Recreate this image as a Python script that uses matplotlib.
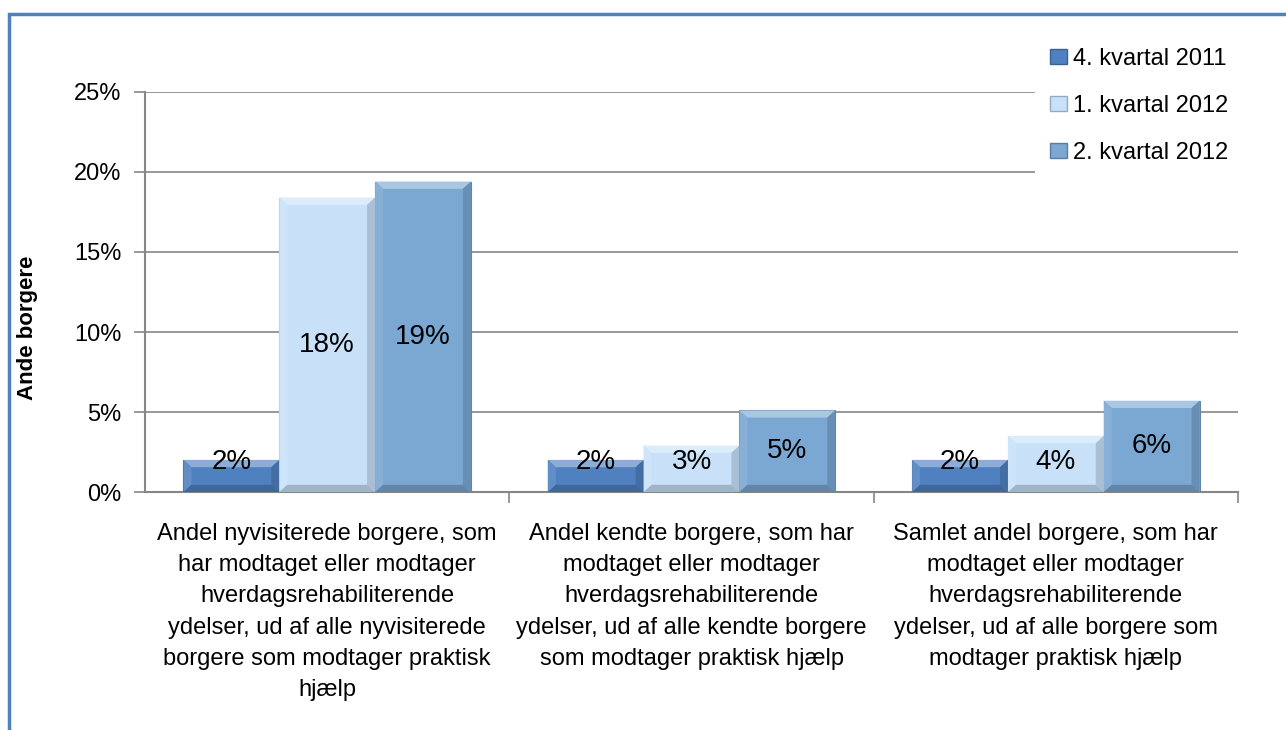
import matplotlib.pyplot as plt
from matplotlib.patches import Patch, Polygon, Rectangle
from matplotlib.ticker import FixedLocator, FuncFormatter
import matplotlib.colors as mcolors

plt.rcParams['font.family'] = ['Liberation Sans', 'DejaVu Sans']

# data (andel i procent)
kategorier = [
    "Andel nyvisiterede borgere, som\nhar modtaget eller modtager\nhverdagsrehabiliterende\nydelser, ud af alle nyvisiterede\nborgere som modtager praktisk\nhjælp",
    "Andel kendte borgere, som har\nmodtaget eller modtager\nhverdagsrehabiliterende\nydelser, ud af alle kendte borgere\nsom modtager praktisk hjælp",
    "Samlet andel borgere, som har\nmodtaget eller modtager\nhverdagsrehabiliterende\nydelser, ud af alle borgere som\nmodtager praktisk hjælp",
]
serier = ["4. kvartal 2011", "1. kvartal 2012", "2. kvartal 2012"]
kv4_2011 = [2.0, 2.0, 2.0]
kv1_2012 = [18.4, 2.9, 3.5]
kv2_2012 = [19.4, 5.1, 5.7]
etiketter = [["2%", "2%", "2%"], ["18%", "3%", "4%"], ["19%", "5%", "6%"]]

farver = ["#4f81c0", "#c8e1f9", "#7ba7d3"]
graa = "#868686"


def shade(c, f):
    r, g, b = mcolors.to_rgb(c)
    if f > 1:
        return (r + (1 - r) * (f - 1), g + (1 - g) * (f - 1), b + (1 - b) * (f - 1))
    return (r * f, g * f, b * f)


def bevel_bar(ax, x0, w, h, c):
    # simpel "bevel"-effekt som i Excel
    bx, by = 0.022, 0.45
    by = min(by, h / 4)
    ax.add_patch(Rectangle((x0, 0), w, h, facecolor=c, edgecolor=shade(c, 0.8), lw=0.8, zorder=3))
    x1 = x0 + w
    top = [(x0, h), (x1, h), (x1 - bx, h - by), (x0 + bx, h - by)]
    bot = [(x0, 0), (x1, 0), (x1 - bx, by), (x0 + bx, by)]
    lft = [(x0, 0), (x0, h), (x0 + bx, h - by), (x0 + bx, by)]
    rgt = [(x1, 0), (x1, h), (x1 - bx, h - by), (x1 - bx, by)]
    ax.add_patch(Polygon(top, closed=True, facecolor=shade(c, 1.35), lw=0, zorder=4))
    ax.add_patch(Polygon(lft, closed=True, facecolor=shade(c, 1.1), lw=0, zorder=4))
    ax.add_patch(Polygon(rgt, closed=True, facecolor=shade(c, 0.85), lw=0, zorder=4))
    ax.add_patch(Polygon(bot, closed=True, facecolor=shade(c, 0.8), lw=0, zorder=4))


fig = plt.figure(figsize=(12.86, 7.30), dpi=100)
ax = fig.add_axes([0.1128, 0.326, 0.8499, 0.548])

bredde = 0.263
serie_data = [kv4_2011, kv1_2012, kv2_2012]
for i, vals in enumerate(serie_data):
    for g, v in enumerate(vals):
        xc = g + (i - 1) * bredde
        bevel_bar(ax, xc - bredde / 2, bredde, v, farver[i])
        ax.text(xc, max(v / 2, 1.9), etiketter[i][g], ha='center', va='center',
                fontsize=20, zorder=5)

ax.set_xlim(-0.5, 2.5)
ax.set_ylim(0, 25)
ax.yaxis.set_major_locator(FixedLocator([0, 5, 10, 15, 20, 25]))
ax.yaxis.set_major_formatter(FuncFormatter(lambda v, p: f"{v:.0f}%"))
ax.grid(axis='y', color=graa, lw=1.2, zorder=0)
ax.set_axisbelow(True)

ax.set_xticks([0, 1, 2])
ax.set_xticklabels(kategorier, fontsize=17, linespacing=1.55)
ax.set_xticks([0.5, 1.5, 2.5], minor=True)
ax.tick_params(axis='x', which='major', length=0, pad=22)
ax.tick_params(axis='x', which='minor', length=8, color=graa, width=1.2)
ax.tick_params(axis='y', length=8, color=graa, width=1.2, labelsize=17, pad=9)

for s in ['top', 'right']:
    ax.spines[s].set_visible(False)
for s in ['left', 'bottom']:
    ax.spines[s].set_color(graa)
    ax.spines[s].set_linewidth(1.5)

ax.set_ylabel("Ande borgere", fontsize=16, fontweight='bold')
ax.yaxis.set_label_coords(-0.098, 0.41)

handles = [Patch(facecolor=farver[i], edgecolor=shade(farver[i], 0.75)) for i in range(3)]
leg = ax.legend(handles, serier, loc='upper left', bbox_to_anchor=(0.8035, 1.178),
                fontsize=17, frameon=True, fancybox=False, edgecolor='none',
                facecolor='white', framealpha=1, handlelength=0.7, handleheight=0.6,
                handletextpad=0.25, labelspacing=1.05, borderpad=0.65)
leg.set_zorder(10)

fig.patches.append(Rectangle((9 / 1286, -0.1), 1.2, 1 - 14 / 730 + 0.1,
                             transform=fig.transFigure, fill=False,
                             edgecolor="#4f81bd", lw=2.5, clip_on=False))

fig.savefig("out.png", dpi=100)
